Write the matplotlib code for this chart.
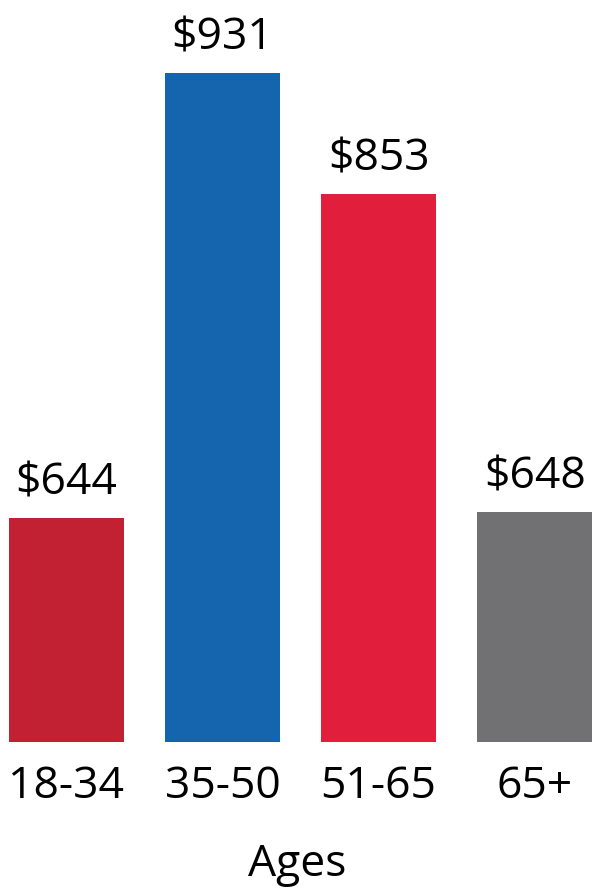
import matplotlib
matplotlib.use("Agg")
import matplotlib.pyplot as plt

# Spending by age group
ages = ["18-34", "35-50", "51-65", "65+"]
amounts = [644, 931, 853, 648]
colors = ["#C12132", "#1565AE", "#E21E3D", "#717174"]

plt.rcParams["font.family"] = ["Open Sans", "DejaVu Sans"]

fig = plt.figure(figsize=(5.94, 8.93), dpi=100)
ax = fig.add_axes([0, 151 / 893, 1, 742 / 893])

base = 499.5
x = range(len(ages))
bars = ax.bar(x, [a - base for a in amounts], bottom=base, width=0.737,
              color=colors)

for xi, a in zip(x, amounts):
    ax.text(xi, a + 8, f"${a}", ha="center", va="bottom", fontsize=32)

ax.set_xlim(-0.426, 3.38)
ax.set_ylim(base, base + 742 / 1.5505)
ax.set_xticks(list(x))
ax.set_xticklabels(ages, fontsize=32)
ax.tick_params(axis="x", length=0, pad=16)
ax.set_yticks([])
ax.set_xlabel("Ages", fontsize=32, labelpad=24)
for s in ax.spines.values():
    s.set_visible(False)

fig.savefig("out.png", dpi=100)
